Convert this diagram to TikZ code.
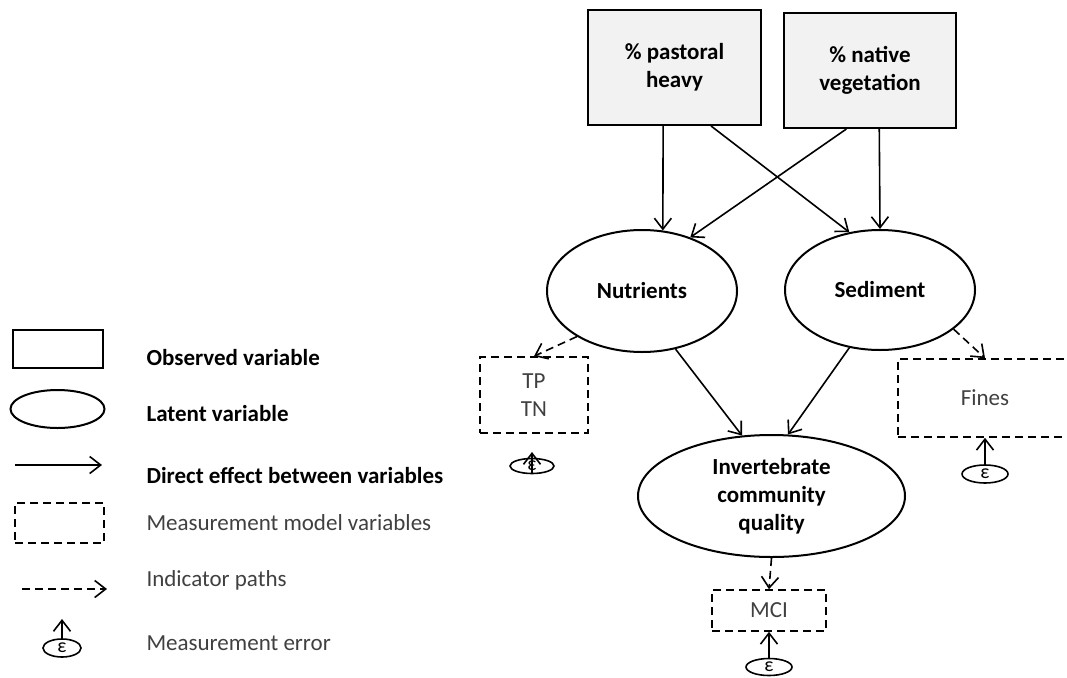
\documentclass[tikz,border=0pt]{standalone}
\usepackage{fontspec}
\setmainfont{Carlito}
\usetikzlibrary{shapes.geometric,arrows.meta}
\definecolor{obsgray}{HTML}{F2F2F2}
\definecolor{txtgray}{HTML}{404040}
\begin{document}
\begin{tikzpicture}[x=1pt,y=-1pt,>={Straight Barb[length=11pt,width=17pt]},
    font=\fontsize{23}{28}\selectfont,
    observed/.style={draw,line width=2pt,fill=obsgray,align=center,font=\fontsize{23}{28}\selectfont\bfseries,minimum width=173pt,minimum height=115pt,inner sep=0pt},
    latent/.style={draw,ellipse,line width=2pt,align=center,font=\fontsize{23}{28}\selectfont\bfseries,inner sep=0pt},
    measured/.style={draw,line width=1.6pt,dash pattern=on 8pt off 5pt,align=center,text=txtgray,inner sep=0pt},
    errnode/.style={draw,ellipse,line width=1.6pt,minimum width=46pt,minimum height=18pt,inner sep=0pt,font=\fontsize{20}{20}\selectfont},
    direct/.style={->,line width=1.6pt},
    indicator/.style={->,line width=1.6pt,dash pattern=on 8pt off 5pt}]
\useasboundingbox (0,0) rectangle (1067,677);

%Observed land use variables
    \node[observed] (pastoral) at (674.5,67.5) {\% pastoral\\heavy};
    \node[observed,minimum width=172pt] (native) at (870,70.5) {\% native\\vegetation};

%Latent variables
    \node[latent,minimum width=190pt,minimum height=122pt] (nutr) at (642,291) {Nutrients};
    \node[latent,minimum width=190pt,minimum height=120pt] (sedi) at (880,290) {Sediment};
    \node[latent,minimum width=267pt,minimum height=122pt] (invert) at (771.5,496) {Invertebrate\\community\\quality};

%Measurement model variables and their errors
    \node[measured,minimum width=108pt,minimum height=76pt] (tptn) at (534,395) {TP\\TN};
    \node[measured,minimum width=174pt,minimum height=78pt] (fines) at (985,398) {Fines};
    \node[measured,minimum width=114pt,minimum height=41pt] (mci) at (769,610.5) {MCI};
    \node[errnode,minimum width=44pt,minimum height=15pt] (errTP) at (532,466) {ε};
    \node[errnode] (errFines) at (985,474) {ε};
    \node[errnode,minimum height=17pt] (errMCI) at (769,667) {ε};
    \coordinate (tipTP) at (532,452);

%Direct effects
    \draw [direct](pastoral.259) -- (nutr.71);
    \draw [direct](pastoral.302) -- (sedi.118);
    \draw [direct](native.248) -- (nutr.48);
    \draw [direct](native.279) -- (sedi.north);
    \draw [direct](nutr.300) -- (invert.116);
    \draw [direct](sedi.242) -- (invert.75);

%Indicator paths
    \draw [indicator](nutr.215) -- (tptn.north);
    \draw [indicator](sedi.332) -- (fines.north);
    \draw [indicator](invert.south) -- (mci.north);
    \draw [direct](errTP.south) -- (tipTP);
    \draw [direct](errFines.north) -- (fines.south);
    \draw [direct](errMCI.north) -- (mci.south);

%Legend
    \node[observed,fill=none,minimum width=90pt,minimum height=38pt] (legObs) at (58,349) {};
    \node[latent,minimum width=94pt,minimum height=38pt] (legLat) at (57.5,409) {};
    \coordinate (legDirA) at (15,465);
    \coordinate (legDirB) at (102,465);
    \draw [direct](legDirA) -- (legDirB);
    \node[measured,minimum width=89pt,minimum height=40pt] (legMeas) at (59.5,523) {};
    \coordinate (legIndA) at (22,589);
    \coordinate (legIndB) at (107,589);
    \draw [indicator](legIndA) -- (legIndB);
    \node[errnode,minimum width=38pt] (legErr) at (62,648) {ε};
    \coordinate (legErrTip) at (62,619);
    \draw [direct](legErr.north) -- (legErrTip);

    \foreach \ypos/\txt in {365/Observed variable,421/Latent variable,483/Direct effect between variables}
        \node[anchor=base west,font=\fontsize{23}{28}\selectfont\bfseries] at (143,\ypos) {\txt};
    \foreach \ypos/\txt in {530/Measurement model variables,586/Indicator paths,650/Measurement error}
        \node[anchor=base west,text=txtgray] at (143,\ypos) {\txt};
\end{tikzpicture}
\end{document}
